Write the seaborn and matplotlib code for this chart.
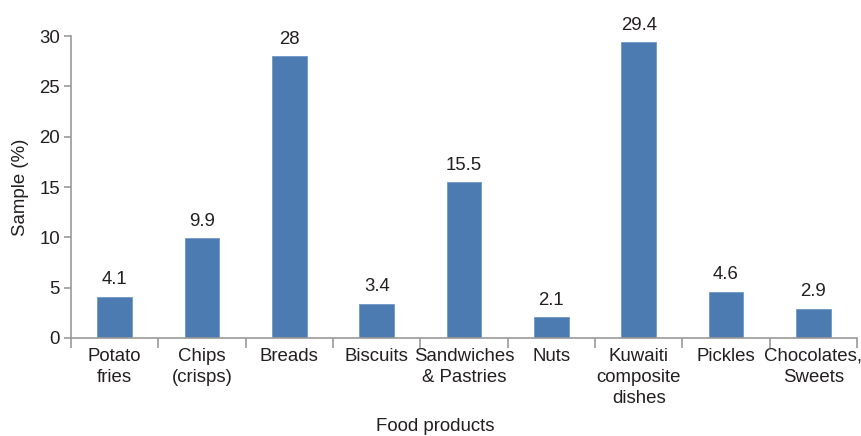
import matplotlib
matplotlib.use("Agg")
import matplotlib.pyplot as plt
import seaborn as sns
import pandas as pd
from matplotlib.ticker import FixedLocator

categories = ["Potato\nfries", "Chips\n(crisps)", "Breads", "Biscuits", "Sandwiches\n& Pastries",
              "Nuts", "Kuwaiti\ncomposite\ndishes", "Pickles", "Chocolates,\nSweets"]
values = [4.1, 9.9, 28, 3.4, 15.5, 2.1, 29.4, 4.6, 2.9]
value_labels = ["4.1", "9.9", "28", "3.4", "15.5", "2.1", "29.4", "4.6", "2.9"]
y_ticks = [0, 5, 10, 15, 20, 25, 30]

sns.set_theme(style="white")
plt.rcParams['font.family'] = ['Liberation Sans', 'DejaVu Sans']

df = pd.DataFrame({"cat": categories, "val": values})
FS = 13.4
TC = "#231f20"

fig = plt.figure(figsize=(8.62, 4.36), dpi=100)
ax = fig.add_axes([0.0824, 0.2248, 0.9118, 0.6922])
sns.barplot(data=df, x="cat", y="val", color="#4c7bb1", saturation=1, width=0.4,
            edgecolor="#6f97c6", linewidth=0.6, ax=ax)

for i, (v, lab) in enumerate(zip(values, value_labels)):
    ax.annotate(lab, (i, v), xytext=(0, 6), textcoords="offset points",
                ha="center", va="bottom", fontsize=FS, color=TC)

ax.set_xlim(-0.5, len(categories) - 0.5)
ax.set_ylim(0, 30)
ax.set_yticks(y_ticks)
ax.set_yticklabels([str(t) for t in y_ticks], fontsize=FS, color=TC)
ax.set_xticks(range(len(categories)))
ax.set_xticklabels(categories, fontsize=FS, color=TC, linespacing=1.3)
ax.xaxis.set_minor_locator(FixedLocator([i - 0.5 for i in range(len(categories) + 1)]))
ax.tick_params(axis="x", which="major", bottom=True, length=0, pad=7)
ax.tick_params(axis="x", which="minor", bottom=True, length=7, width=1.2, color="#999999", direction="out")
ax.tick_params(axis="y", which="major", left=True, length=5, width=1.2, color="#999999", direction="out", pad=3)

for s in ["top", "right"]:
    ax.spines[s].set_visible(False)
for s in ["left", "bottom"]:
    ax.spines[s].set_color("#999999")
    ax.spines[s].set_linewidth(1.2)

ax.set_ylabel("Sample (%)", fontsize=FS, color=TC, labelpad=7)
ax.set_xlabel("Food products", fontsize=FS, color=TC)
ax.xaxis.set_label_coords(0.463, -0.266)

fig.savefig("out.png", dpi=100)
